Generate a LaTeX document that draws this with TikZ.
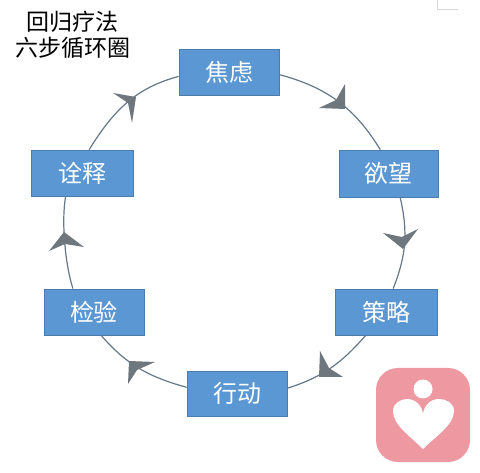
\documentclass[tikz,border=0pt]{standalone}
\usepackage{fontspec}
\setmainfont{Noto Sans CJK SC}
\definecolor{boxfill}{HTML}{5B97D2}
\definecolor{boxline}{HTML}{4A7DAE}
\definecolor{headgray}{HTML}{6E767E}
\definecolor{ringline}{HTML}{64788A}
\definecolor{logopink}{HTML}{EE98A2}
\definecolor{marklight}{HTML}{D8D8D8}
\tikzset{
  stepbox/.style={draw=boxline,line width=0.8pt,fill=boxfill,text=white,font=\fontsize{24}{26}\selectfont,inner sep=0pt},
  ring/.style={draw=ringline,line width=1.2pt},
  headmark/.style={fill=headgray},
}
\begin{document}
\begin{tikzpicture}[x=1pt,y=1pt]
\useasboundingbox (0,0) rectangle (480,472);
\node[stepbox,minimum width=100pt,minimum height=46pt] (jiao) at (229,400) {焦虑};
\node[stepbox,minimum width=99pt,minimum height=47pt] (yu) at (388.5,298.5) {欲望};
\node[stepbox,minimum width=102pt,minimum height=46pt] (ce) at (386,160) {策略};
\node[stepbox,minimum width=100pt,minimum height=45pt] (xing) at (237,78.5) {行动};
\node[stepbox,minimum width=100pt,minimum height=46pt] (jian) at (94,160) {检验};
\node[stepbox,minimum width=102pt,minimum height=46pt] (quan) at (82,299) {诠释};
\draw[ring] (jiao.-3.4) to[out=-15,in=121.5] (yu.109.9);
\draw[ring] (yu.-64) to[out=-77,in=68.4] (ce.73);
\draw[ring] (ce.-131) to[out=-131,in=17.5] (xing.6.3);
\draw[ring] (xing.173.7) to[out=164.6,in=-49] (jian.-73);
\draw[ring] (jian.132.4) to[out=108,in=-100,looseness=0.7] (quan.-125);
\draw[ring] (quan.73) to[out=58,in=195] (jiao.185.7);
\node[text=black,align=center,font=\fontsize{23}{26}\selectfont] (title) at (73,437) {回归疗法\\六步循环圈};
\begin{scope}[y=-1pt,yshift=472pt]
\fill[headmark] (345,84) -- (336,100) -- (319,108) -- (345,109) -- cycle;
\fill[headmark] (383,233) -- (402,237) -- (418,229) -- (403,249) -- cycle;
\fill[headmark] (320,351) -- (329,368) -- (343,377) -- (319,377) -- cycle;
\fill[headmark] (155,362) -- (137,370) -- (128,384) -- (129,361) -- cycle;
\fill[headmark] (49,251) -- (65,244) -- (84,247) -- (64,232) -- cycle;
\fill[headmark] (113,93) -- (128,103) -- (132,123) -- (136,97) -- cycle;
\draw[marklight,line width=0.8pt] (437,0) -- (437,9) -- (458,9);
\fill[logopink] (376,368) [rounded corners=22pt] -- (470,368) -- (470,462) -- (376,462) -- cycle;
\fill[white] (423,389) circle (9.5);
\fill[white] (423,449) .. controls (410,436) and (393,425) .. (393,411)
  .. controls (393,403) and (401,399) .. (407,399)
  .. controls (416,399) and (422,406) .. (423,414)
  .. controls (424,406) and (430,399) .. (439,399)
  .. controls (446,399) and (454,403) .. (454,411)
  .. controls (454,425) and (436,436) .. (423,449) -- cycle;
\end{scope}
\end{tikzpicture}
\end{document}
